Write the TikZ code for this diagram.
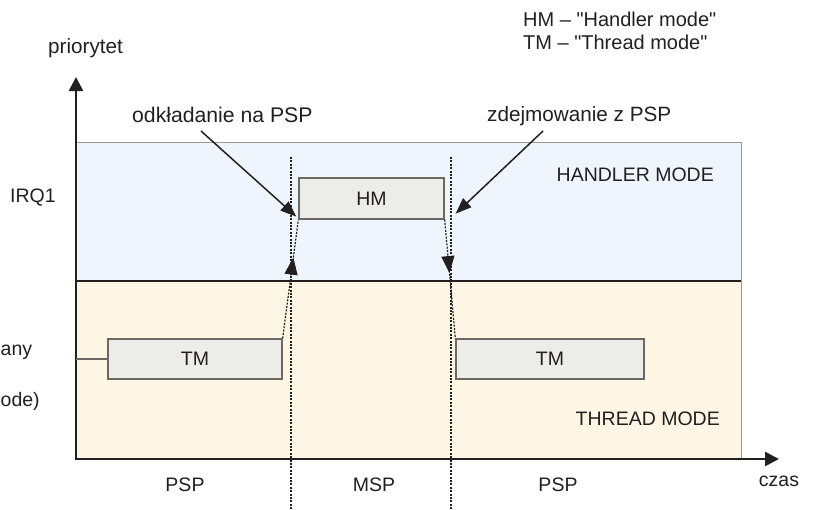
\documentclass[tikz,border=0pt]{standalone}
\usepackage{fontspec}
\setmainfont{Liberation Sans}[Ligatures=TeXOff]
\usetikzlibrary{arrows.meta,decorations.markings}

\definecolor{ink}{HTML}{231F20}
\definecolor{hmode}{HTML}{EFF5FC}
\definecolor{tmode}{HTML}{FEF6E5}
\definecolor{boxfill}{HTML}{ECEDE8}
\definecolor{boxline}{HTML}{6E6862}
\definecolor{edge}{HTML}{9A9896}

\tikzset{
  lbl/.style={font=\fontsize{19.5}{22}\selectfont, text=ink, inner sep=0pt},
  lblw/.style={lbl, font=\fontsize{20.7}{23}\selectfont},
  modebox/.style={draw=boxline, line width=1.3pt, fill=boxfill, inner sep=0pt,
    font=\fontsize{19.5}{22}\selectfont, text=ink},
  axis/.style={draw=ink, line width=2.6pt, -{Triangle[length=14pt,width=14pt]}},
  pointer/.style={draw=ink, line width=1.5pt, -{Triangle[length=16pt,width=12pt]}},
  stackline/.style={draw=ink, line width=1.2pt, dash pattern=on 2pt off 1.4pt},
  switch/.style={stackline, postaction={decorate},
    decoration={markings, mark=at position #1 with
      {\arrow[ink]{Triangle[length=17pt,width=13pt]}}}},
}

\begin{document}
\begin{tikzpicture}[x=1pt, y=-1pt]
\useasboundingbox (0,0) rectangle (813,509);

% priority bands
\fill[hmode] (76,142) rectangle (741,280);
\fill[tmode] (76,280) rectangle (741,459);
\draw[edge, line width=1pt] (76,142) -- (741,142) -- (741,459);
\draw[ink, line width=2pt] (76,280.5) -- (741,280.5);

% mode boundaries
\coordinate (b1top) at (291,157);
\coordinate (b1bot) at (291,509);
\coordinate (b2top) at (451,157);
\coordinate (b2bot) at (451,509);
\draw[stackline] (b1top) -- (b1bot);
\draw[stackline] (b2top) -- (b2bot);

% axes
\coordinate (origin) at (76,459);
\coordinate (ytip) at (76,77);
\coordinate (xtip) at (779,459);
\draw[axis] (origin) -- (ytip);
\draw[axis] ([xshift=-1.3pt]origin) -- (xtip);

% execution boxes
\node[modebox, minimum width=145pt, minimum height=41pt] (hm) at (371.5,198.5) {HM};
\node[modebox, minimum width=174pt, minimum height=40pt] (tm1) at (195,359) {TM};
\node[modebox, minimum width=188pt, minimum height=40pt] (tm2) at (550,359) {TM};
\coordinate (tmstart) at (76,359);
\draw[boxline, line width=1.5pt] (tmstart) -- (tm1.west);

% context switches
\draw[switch=0.68] (tm1.north east) -- (hm.south west);
\draw[switch=0.45] (hm.south east) -- (tm2.north west);

% labels
\node[lblw, anchor=base west] (prio) at (48,53) {priorytet};
\node[lbl, font=\fontsize{20}{23}\selectfont, anchor=base west] (leg1) at (523,26) {HM – "Handler mode"};
\node[lbl, font=\fontsize{20}{23}\selectfont, anchor=base west] (leg2) at (523,49) {TM – "Thread mode"};
\node[lblw, font=\fontsize{21.2}{23}\selectfont, anchor=base west] (push) at (132,122) {odkładanie na PSP};
\node[lblw, anchor=base west] (pop) at (487,121) {zdejmowanie z PSP};
\node[lbl, anchor=base west] (irq) at (10,202) {IRQ1};
\node[lbl, anchor=base west] (main1) at (0.5,355) {any};
\node[lbl, anchor=base west] (main2) at (0.5,406) {ode)};
\node[lbl, anchor=base east] (hlabel) at (714,181) {HANDLER MODE};
\node[lbl, anchor=base east] (tlabel) at (720,425) {THREAD MODE};
\node[lbl, anchor=base] (psp1) at (185,491) {PSP};
\node[lbl, anchor=base] (msp) at (374,491) {MSP};
\node[lbl, anchor=base] (psp2) at (558,491) {PSP};
\node[lbl, anchor=base] (czas) at (779,486) {czas};

% pointers to the stack operations
\coordinate (pushfrom) at (201,131);
\coordinate (popfrom) at (543,131);
\draw[pointer] (pushfrom) -- ([shift={(-2,-3)}]hm.south west);
\draw[pointer] (popfrom) -- ([shift={(11,-6)}]hm.south east);
\end{tikzpicture}
\end{document}
